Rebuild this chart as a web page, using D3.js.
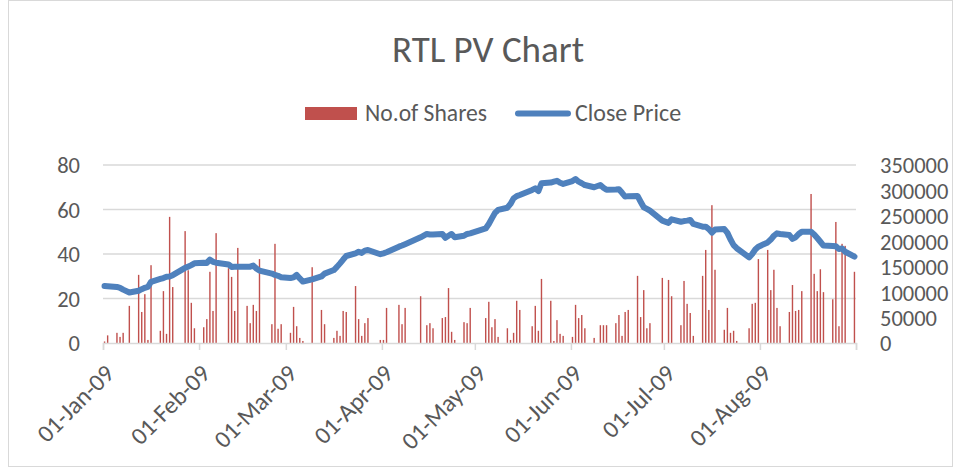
<!DOCTYPE html>
<html><head><meta charset="utf-8">
<script src="https://cdn.jsdelivr.net/npm/d3@7"></script>
<style>
html,body{margin:0;padding:0;background:#fff;}
svg text{font-family:Carlito,Lato,"Open Sans",sans-serif;fill:#595959;}
</style></head>
<body>
<svg id="c" width="961" height="467"></svg>
<script>
const title = "RTL PV Chart";
const seriesNames = ["No.of Shares", "Close Price"];
const dates = ["2009-01-01","2009-01-02","2009-01-05","2009-01-06","2009-01-07","2009-01-09","2009-01-12","2009-01-13","2009-01-14","2009-01-15","2009-01-16","2009-01-19","2009-01-20","2009-01-21","2009-01-22","2009-01-23","2009-01-27","2009-01-28","2009-01-29","2009-01-30",
"2009-02-02","2009-02-03","2009-02-04","2009-02-05","2009-02-06","2009-02-10","2009-02-11","2009-02-12","2009-02-13","2009-02-16","2009-02-17","2009-02-18","2009-02-19","2009-02-20","2009-02-24","2009-02-25","2009-02-26","2009-02-27",
"2009-03-02","2009-03-03","2009-03-04","2009-03-05","2009-03-06","2009-03-09","2009-03-12","2009-03-13","2009-03-16","2009-03-17","2009-03-18","2009-03-19","2009-03-20","2009-03-23","2009-03-24","2009-03-25","2009-03-26","2009-03-27","2009-03-31",
"2009-04-01","2009-04-02","2009-04-06","2009-04-07","2009-04-08","2009-04-13","2009-04-15","2009-04-16","2009-04-17","2009-04-20","2009-04-21","2009-04-22","2009-04-23","2009-04-24","2009-04-27","2009-04-28","2009-04-29",
"2009-05-04","2009-05-05","2009-05-06","2009-05-07","2009-05-08","2009-05-11","2009-05-12","2009-05-13","2009-05-14","2009-05-15","2009-05-19","2009-05-20","2009-05-21","2009-05-22","2009-05-25","2009-05-26","2009-05-27","2009-05-28","2009-05-29",
"2009-06-01","2009-06-02","2009-06-03","2009-06-04","2009-06-05","2009-06-08","2009-06-10","2009-06-11","2009-06-12","2009-06-15","2009-06-16","2009-06-17","2009-06-18","2009-06-19","2009-06-22","2009-06-23","2009-06-24","2009-06-25","2009-06-26","2009-06-30",
"2009-07-02","2009-07-03","2009-07-06","2009-07-07","2009-07-08","2009-07-09","2009-07-10","2009-07-13","2009-07-14","2009-07-15","2009-07-16","2009-07-17","2009-07-20","2009-07-21","2009-07-22","2009-07-23","2009-07-24","2009-07-28","2009-07-29","2009-07-30","2009-07-31",
"2009-08-03","2009-08-04","2009-08-05","2009-08-06","2009-08-07","2009-08-10","2009-08-11","2009-08-12","2009-08-13","2009-08-14","2009-08-17","2009-08-18","2009-08-19","2009-08-20","2009-08-21","2009-08-24","2009-08-25","2009-08-26","2009-08-27","2009-08-28","2009-08-31"];
const shares = [3000,15000,20000,12000,20000,73000,134000,61000,96000,6000,153000,24000,102000,18000,248000,110000,220000,143000,79000,29000,
31000,47000,140000,63000,216000,147000,130000,63000,187000,73000,39000,75000,63000,165000,37000,195000,28000,37000,
20000,71000,33000,10000,4000,149000,65000,37000,10000,24000,14000,63000,61000,112000,47000,14000,39000,49000,6000,
6000,69000,75000,37000,69000,92000,35000,39000,29000,49000,51000,108000,22000,6000,41000,39000,69000,
49000,81000,31000,47000,12000,29000,6000,20000,83000,65000,33000,73000,24000,126000,83000,4000,45000,18000,14000,
12000,75000,49000,55000,29000,10000,35000,35000,35000,39000,55000,14000,61000,65000,132000,51000,104000,29000,39000,128000,
124000,92000,35000,122000,77000,59000,14000,132000,183000,65000,271000,144000,26000,69000,20000,24000,4000,29000,77000,79000,165000,
183000,104000,144000,69000,33000,61000,114000,63000,65000,102000,293000,136000,102000,145000,100000,86000,238000,33000,195000,191000,140000];
const close = [25.6,25.5,25.2,24.8,24.0,22.7,23.5,24.2,24.8,25.2,27.5,28.8,29.2,29.8,29.9,30.5,33.8,34.3,35.0,35.8,
36.1,36.0,37.5,36.5,36.1,35.3,34.2,34.3,34.3,34.3,34.3,34.8,33.5,32.5,31.2,30.6,30.2,29.6,
29.2,29.5,30.6,29.0,27.6,28.6,29.9,31.2,32.8,34.2,35.8,37.5,39.1,40.3,41.0,40.5,41.5,41.8,39.9,
40.3,40.8,43.3,43.8,44.4,47.5,49.0,48.8,48.8,49.0,47.3,48.2,49.0,47.5,48.2,49.0,49.3,
51.5,53.5,56.0,58.5,59.8,60.8,62.5,65.0,66.0,66.5,68.8,69.5,68.3,71.8,72.1,72.5,72.9,72.0,71.5,
72.8,73.7,72.5,71.8,71.0,70.0,71.0,69.8,68.9,69.0,69.1,67.5,65.8,66.0,66.1,63.5,61.0,60.3,59.5,55.0,
54.0,55.6,54.5,54.8,55.0,55.3,53.5,52.3,52.3,51.2,49.6,51.0,51.2,49.5,46.5,44.0,42.6,38.5,40.0,42.0,43.3,
45.2,46.5,48.2,49.3,49.0,48.5,46.8,47.5,49.0,50.0,50.0,48.8,47.2,45.5,43.8,43.6,43.5,42.2,42.5,41.0,38.8];
const leftTicks = [0,20,40,60,80];
const rightTicks = [0,50000,100000,150000,200000,250000,300000,350000];
const monthTicks = ["2009-01-01","2009-02-01","2009-03-01","2009-04-01","2009-05-01","2009-06-01","2009-07-01","2009-08-01","2009-09-01"];

const parse = d3.utcParse("%Y-%m-%d");
const fmt = d3.utcFormat("%d-%b-%y");
const data = dates.map((d,i)=>({date:parse(d), v:shares[i], c:close[i]}));

const svg = d3.select("#c");
const L = 103, R = 856, T = 165, B = 343;
const x = d3.scaleUtc().domain([parse("2009-01-01"), parse("2009-09-01")]).range([L, R]);
const yL = d3.scaleLinear().domain([0,80]).range([B,T]);
const yR = d3.scaleLinear().domain([0,350000]).range([B,T]);
const half = (x(parse("2009-01-02")) - x(parse("2009-01-01")))/2;

// chart border
svg.append("rect").attr("x",8.5).attr("y",0.5).attr("width",944).attr("height",466)
  .attr("fill","none").attr("stroke","#d9d9d9");

// title
svg.append("text").attr("x",488).attr("y",62).attr("text-anchor","middle")
  .style("font-size","37px").text(title);

// legend
svg.append("rect").attr("x",305).attr("y",107).attr("width",52).attr("height",13).attr("fill","#c0504d");
svg.append("text").attr("x",365).attr("y",121).style("font-size","23.6px").text(seriesNames[0]);
svg.append("line").attr("x1",518).attr("x2",568).attr("y1",113.5).attr("y2",113.5)
  .attr("stroke","#4f81bd").attr("stroke-width",6).attr("stroke-linecap","round");
svg.append("text").attr("x",575).attr("y",121).style("font-size","24px").text(seriesNames[1]);

// gridlines
svg.append("g").selectAll("line").data(leftTicks.filter(t=>t>0)).join("line")
  .attr("x1",L).attr("x2",R).attr("y1",d=>yL(d)).attr("y2",d=>yL(d))
  .attr("stroke","#d9d9d9").attr("stroke-width",1.5);

// left axis
const gl = svg.append("g").attr("transform",`translate(${L},0)`)
  .call(d3.axisLeft(yL).tickValues(leftTicks).tickSize(0).tickPadding(23));
gl.select(".domain").remove();
gl.selectAll("text").style("font-size","22.5px").attr("dy","0.35em");

// right axis
const gr = svg.append("g").attr("transform",`translate(${R},0)`)
  .call(d3.axisRight(yR).tickValues(rightTicks).tickSize(0).tickPadding(24).tickFormat(d3.format("d")));
gr.select(".domain").remove();
gr.selectAll("text").style("font-size","22.5px").attr("dy","0.35em");

// bars
svg.append("g").selectAll("rect").data(data).join("rect")
  .attr("x",d=>x(d.date)+half-0.7).attr("width",1.4)
  .attr("y",d=>yR(d.v)).attr("height",d=>B-yR(d.v))
  .attr("fill","#c0504d");

// x axis
const gx = svg.append("g").attr("transform",`translate(0,${B})`)
  .call(d3.axisBottom(x).tickValues(monthTicks.map(parse)).tickSize(7).tickFormat(d=>+d===+parse("2009-09-01")?"":fmt(d)));
gx.select(".domain").attr("stroke","#d9d9d9").attr("stroke-width",1.5);
gx.selectAll(".tick line").attr("stroke","#d9d9d9").attr("stroke-width",1.5);
gx.selectAll("text").style("font-size","24.5px")
  .attr("text-anchor","end").attr("transform","translate(6,26) rotate(-45)").attr("dy","0.35em").attr("y",0).attr("x",0);

// line
svg.append("path").datum(data)
  .attr("fill","none").attr("stroke","#4f81bd").attr("stroke-width",6)
  .attr("stroke-linejoin","round").attr("stroke-linecap","round")
  .attr("d", d3.line().x(d=>x(d.date)+half).y(d=>yL(d.c)));
</script>
</body></html>
